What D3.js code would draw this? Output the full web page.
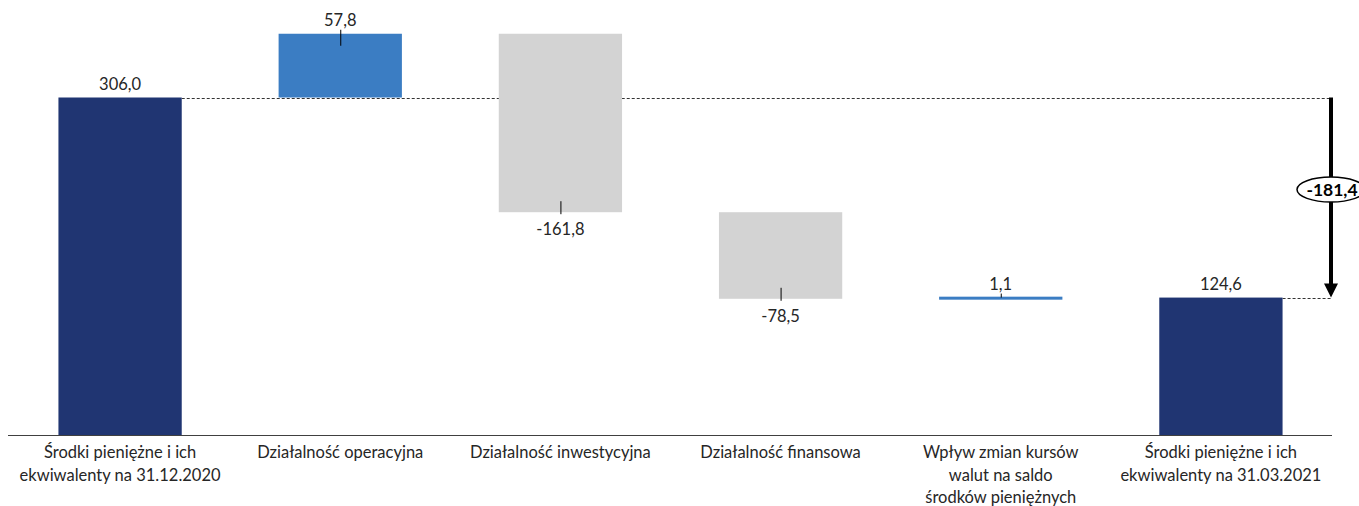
<!DOCTYPE html>
<html>
<head>
<meta charset="utf-8">
<script src="https://cdn.jsdelivr.net/npm/d3@7"></script>
<style>
  html, body { margin: 0; padding: 0; background: #ffffff; }
  svg { display: block; }
  text { font-family: Lato, "Open Sans", sans-serif; fill: #262626; }
</style>
</head>
<body>
<svg id="chart" width="1359" height="506"></svg>
<script>
// Cash flow bridge, in mln
const categories = [
  ["Środki pieniężne i ich", "ekwiwalenty na 31.12.2020"],
  ["Działalność operacyjna"],
  ["Działalność inwestycyjna"],
  ["Działalność finansowa"],
  ["Wpływ zmian kursów", "walut na saldo", "środków pieniężnych"],
  ["Środki pieniężne i ich", "ekwiwalenty na 31.03.2021"]
];
const values = [306.0, 57.8, -161.8, -78.5, 1.1, 124.6];
const kinds = ["total", "delta", "delta", "delta", "delta", "total"];

const fmt = v => d3.format(".1f")(v).replace(".", ",").replace("−", "-");

// running start / end of each bar
let run = 0;
const bars = values.map((v, i) => {
  let s, e;
  if (kinds[i] === "total") { s = 0; e = v; run = v; }
  else { s = run; e = run + v; run = e; }
  return { i, v, s, e, kind: kinds[i] };
});

const svg = d3.select("#chart");
const x = d3.scaleBand().domain(d3.range(categories.length)).range([10, 1331]).paddingInner(0.44).paddingOuter(0.22);
const y = d3.scaleLinear().domain([0, 306]).range([435, 97.5]);

const colorOf = d => d.kind === "total" ? "#203572" : (d.v >= 0 ? "#3B7DC3" : "#D3D3D3");

// dashed reference lines: opening and closing balance levels
const xEnd = x.range()[1];
svg.append("line")
  .attr("x1", x(0) + x.bandwidth()).attr("x2", xEnd)
  .attr("y1", Math.round(y(values[0])) + 0.5).attr("y2", Math.round(y(values[0])) + 0.5)
  .attr("stroke", "#333").attr("stroke-width", 1).attr("stroke-dasharray", "3,2");
svg.append("line")
  .attr("x1", x(5) + x.bandwidth()).attr("x2", xEnd)
  .attr("y1", Math.round(y(values[5])) + 0.5).attr("y2", Math.round(y(values[5])) + 0.5)
  .attr("stroke", "#333").attr("stroke-width", 1).attr("stroke-dasharray", "3,2");

// bars
svg.selectAll("rect.bar").data(bars).enter().append("rect")
  .attr("class", "bar")
  .attr("x", d => x(d.i))
  .attr("width", x.bandwidth())
  .attr("y", d => {
    const h = Math.abs(y(d.s) - y(d.e));
    const top = Math.min(y(d.s), y(d.e));
    return h < 3 ? (top + h / 2 - 1.5) : top;
  })
  .attr("height", d => Math.max(3, Math.abs(y(d.s) - y(d.e))))
  .attr("fill", colorOf);

// small leader ticks on the change bars
svg.selectAll("line.tick").data(bars.filter(d => d.kind === "delta")).enter().append("line")
  .attr("class", "tick")
  .attr("x1", d => x(d.i) + x.bandwidth() / 2 + 0.5)
  .attr("x2", d => x(d.i) + x.bandwidth() / 2 + 0.5)
  .attr("y1", d => {
    if (Math.abs(y(d.s) - y(d.e)) < 3) return y(d.e) - 4;
    return d.v >= 0 ? y(d.e) - 4 : y(d.e) - 11;
  })
  .attr("y2", d => {
    if (Math.abs(y(d.s) - y(d.e)) < 3) return y(d.e);
    return d.v >= 0 ? y(d.e) + 12 : y(d.e) + 2;
  })
  .attr("stroke", "#000").attr("stroke-width", 1);

// value labels
svg.selectAll("text.val").data(bars).enter().append("text")
  .attr("class", "val")
  .attr("x", d => x(d.i) + x.bandwidth() / 2)
  .attr("y", d => {
    if (d.kind === "total") return y(d.e) - 8;
    if (d.v >= 0) return y(d.e) - 8;
    return y(d.e) + 23;
  })
  .attr("text-anchor", "middle")
  .attr("font-size", 16.5)
  .text(d => fmt(d.v));

// category axis
svg.append("line")
  .attr("x1", 8).attr("x2", 1332)
  .attr("y1", 435.5).attr("y2", 435.5)
  .attr("stroke", "#404040").attr("stroke-width", 1);

const catG = svg.selectAll("text.cat").data(categories).enter().append("text")
  .attr("class", "cat")
  .attr("text-anchor", "middle")
  .attr("font-size", 16.5)
  .attr("x", (d, i) => x(i) + x.bandwidth() / 2)
  .attr("y", 458);
catG.selectAll("tspan").data(d => d).enter().append("tspan")
  .attr("x", function () { return d3.select(this.parentNode).attr("x"); })
  .attr("dy", (d, j) => j === 0 ? 0 : 22.5)
  .text(d => d);

// total change arrow
const change = values[5] - values[0];
const ax = xEnd;
const y0 = y(values[0]), y1 = y(values[5]);
svg.append("line")
  .attr("x1", ax).attr("x2", ax)
  .attr("y1", y0).attr("y2", y1 - 13)
  .attr("stroke", "#000").attr("stroke-width", 4);
svg.append("path")
  .attr("d", `M${ax - 7},${y1 - 14} L${ax + 7},${y1 - 14} L${ax},${y1} Z`)
  .attr("fill", "#000");
const my = (y0 + y1) / 2 - 8;
svg.append("ellipse")
  .attr("cx", ax).attr("cy", my)
  .attr("rx", 34).attr("ry", 12.5)
  .attr("fill", "#fff").attr("stroke", "#000").attr("stroke-width", 1.5);
svg.append("text")
  .attr("x", ax + 1).attr("y", my + 6)
  .attr("text-anchor", "middle")
  .attr("font-size", 17.5).attr("font-weight", "bold")
  .style("fill", "#000")
  .text(fmt(change));
</script>
</body>
</html>
